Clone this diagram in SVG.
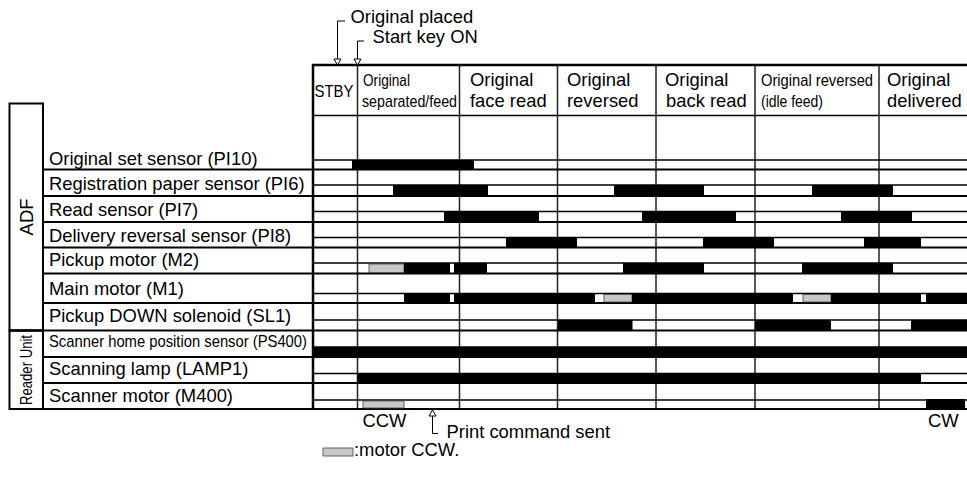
<svg xmlns="http://www.w3.org/2000/svg" width="967" height="477" viewBox="0 0 967 477">
<style>
text{font-family:"Liberation Sans",Arial,sans-serif;font-size:18.4px;fill:#000}
.c{font-size:17px}
.sep{stroke:#000;stroke-width:2}
.lane{stroke:#000;stroke-width:1.5}
.col{stroke:#222;stroke-width:1.5}
.on{fill:#000}
.ccw{fill:#c8c8c8;stroke:#444;stroke-width:0.8}
.ar{fill:#fff;stroke:#000;stroke-width:1}
.ln{stroke:#000;stroke-width:1;fill:none}
.box{fill:none;stroke:#000;stroke-width:2}
</style>
<rect width="967" height="477" fill="#fff"/>
<g id="grid">
<line x1="312" y1="65" x2="967" y2="65" stroke="#000" stroke-width="2.5"/>
<line x1="313" y1="64" x2="313" y2="410" stroke="#000" stroke-width="2.5"/>
<line x1="313" y1="115.5" x2="967" y2="115.5" stroke="#000" stroke-width="1.5"/>
<g class="col">
<line x1="357.5" y1="65" x2="357.5" y2="409"/>
<line x1="459.5" y1="65" x2="459.5" y2="409"/>
<line x1="557.5" y1="65" x2="557.5" y2="409"/>
<line x1="656" y1="65" x2="656" y2="409"/>
<line x1="755" y1="65" x2="755" y2="409"/>
<line x1="879" y1="65" x2="879" y2="409"/>
</g>
<rect class="box" x="9.5" y="103.5" width="33.5" height="227"/>
<rect class="box" x="9.5" y="330.5" width="33.5" height="78.5"/>
<g class="sep">
<line x1="43" y1="169.5" x2="967" y2="169.5"/>
<line x1="43" y1="196" x2="967" y2="196"/>
<line x1="43" y1="222" x2="967" y2="222"/>
<line x1="43" y1="247.5" x2="967" y2="247.5"/>
<line x1="43" y1="273.5" x2="967" y2="273.5"/>
<line x1="43" y1="303" x2="967" y2="303"/>
<line x1="9" y1="330.5" x2="967" y2="330.5"/>
<line x1="43" y1="357" x2="967" y2="357"/>
<line x1="43" y1="383" x2="967" y2="383"/>
<line x1="9" y1="409" x2="967" y2="409"/>
</g>
<g class="lane">
<line x1="313" y1="160" x2="967" y2="160"/>
<line x1="313" y1="185" x2="967" y2="185"/>
<line x1="313" y1="211.5" x2="967" y2="211.5"/>
<line x1="313" y1="237.5" x2="967" y2="237.5"/>
<line x1="313" y1="263" x2="967" y2="263"/>
<line x1="313" y1="293.5" x2="967" y2="293.5"/>
<line x1="313" y1="320" x2="967" y2="320"/>
<line x1="313" y1="347" x2="967" y2="347"/>
<line x1="313" y1="373.5" x2="967" y2="373.5"/>
<line x1="313" y1="400" x2="967" y2="400"/>
</g>
</g>
<g id="header">
<text class="c" x="314.5" y="97" textLength="39" lengthAdjust="spacingAndGlyphs">STBY</text>
<text class="c" x="363" y="86" textLength="47" lengthAdjust="spacingAndGlyphs">Original</text>
<text class="c" x="362" y="107" textLength="95" lengthAdjust="spacingAndGlyphs">separated/feed</text>
<text x="470" y="86">Original</text>
<text x="470" y="107">face read</text>
<text x="567" y="86">Original</text>
<text x="567" y="107">reversed</text>
<text x="665" y="86">Original</text>
<text x="666" y="107">back read</text>
<text class="c" x="761" y="86" textLength="112" lengthAdjust="spacingAndGlyphs">Original reversed</text>
<text class="c" x="761" y="107" textLength="62" lengthAdjust="spacingAndGlyphs">(idle feed)</text>
<text x="887" y="86">Original</text>
<text x="887" y="107">delivered</text>
</g>
<g id="labels">
<text transform="translate(33,217) rotate(-90)" text-anchor="middle">ADF</text>
<text class="c" transform="translate(32,370) rotate(-90)" text-anchor="middle" textLength="70" lengthAdjust="spacingAndGlyphs">Reader Unit</text>
<text x="49" y="165">Original set sensor (PI10)</text>
<text x="49" y="190">Registration paper sensor (PI6)</text>
<text x="49" y="216">Read sensor (PI7)</text>
<text x="49" y="241.5">Delivery reversal sensor (PI8)</text>
<text x="49" y="266">Pickup motor (M2)</text>
<text x="49" y="295">Main motor (M1)</text>
<text x="49" y="322">Pickup DOWN solenoid (SL1)</text>
<text class="c" x="49" y="347" textLength="258" lengthAdjust="spacingAndGlyphs">Scanner home position sensor (PS400)</text>
<text x="49" y="375">Scanning lamp (LAMP1)</text>
<text x="49" y="401.5">Scanner motor (M400)</text>
</g>
<g id="signals">
<g id="s1"><rect class="on" x="352" y="160" width="122" height="9.5"/></g>
<g id="s2"><rect class="on" x="393" y="185" width="95" height="11"/><rect class="on" x="614" y="185" width="90" height="11"/><rect class="on" x="812" y="185" width="81" height="11"/></g>
<g id="s3"><rect class="on" x="444" y="211.5" width="95" height="10.5"/><rect class="on" x="642" y="211.5" width="94" height="10.5"/><rect class="on" x="841" y="211.5" width="71" height="10.5"/></g>
<g id="s4"><rect class="on" x="506" y="237.5" width="71" height="10"/><rect class="on" x="703" y="237.5" width="71" height="10"/><rect class="on" x="864" y="237.5" width="57" height="10"/></g>
<g id="s5"><rect class="ccw" x="369" y="264" width="35" height="8.5"/><rect class="on" x="404" y="263" width="46" height="10.5"/><rect class="on" x="454" y="263" width="33" height="10.5"/><rect class="on" x="623" y="263" width="81" height="10.5"/><rect class="on" x="802" y="263" width="91" height="10.5"/></g>
<g id="s6"><rect class="on" x="404" y="293.5" width="46" height="9.5"/><rect class="on" x="454" y="293.5" width="141" height="9.5"/><rect class="ccw" x="604" y="294.5" width="28" height="7.5"/><rect class="on" x="632" y="293.5" width="161" height="9.5"/><rect class="ccw" x="803" y="294.5" width="28" height="7.5"/><rect class="on" x="831" y="293.5" width="90" height="9.5"/><rect class="on" x="926" y="293.5" width="41" height="9.5"/></g>
<g id="s7"><rect class="on" x="558" y="320" width="74.5" height="10.5"/><rect class="on" x="755" y="320" width="76" height="10.5"/><rect class="on" x="911" y="320" width="56" height="10.5"/></g>
<g id="s8"><rect class="on" x="313" y="347" width="654" height="10"/></g>
<g id="s9"><rect class="on" x="357" y="373.5" width="564" height="9.5"/></g>
<g id="s10"><rect class="ccw" x="363" y="401" width="41" height="7"/><rect class="on" x="926" y="399" width="39" height="10"/></g>
</g>
<g id="connectors">
<path class="ln" d="M345,21 H337.5 V59"/>
<polygon class="ar" points="334,59 341,59 337.5,65"/>
<path class="ln" d="M364,41 H357.5 V59"/>
<polygon class="ar" points="354,59 361,59 357.5,65"/>
<path class="ln" d="M432.5,416 V433.5 H438"/>
<polygon class="ar" points="429,416 436,416 432.5,410"/>
</g>
<g id="annotations">
<text x="350.5" y="23">Original placed</text>
<text x="372.5" y="43">Start key ON</text>
<text x="362.5" y="427">CCW</text>
<text x="928" y="427">CW</text>
<text x="446.5" y="438">Print command sent</text>
<rect class="ccw" x="323" y="448" width="30" height="8"/>
<text x="354" y="456">:motor CCW.</text>
</g>
</svg>
